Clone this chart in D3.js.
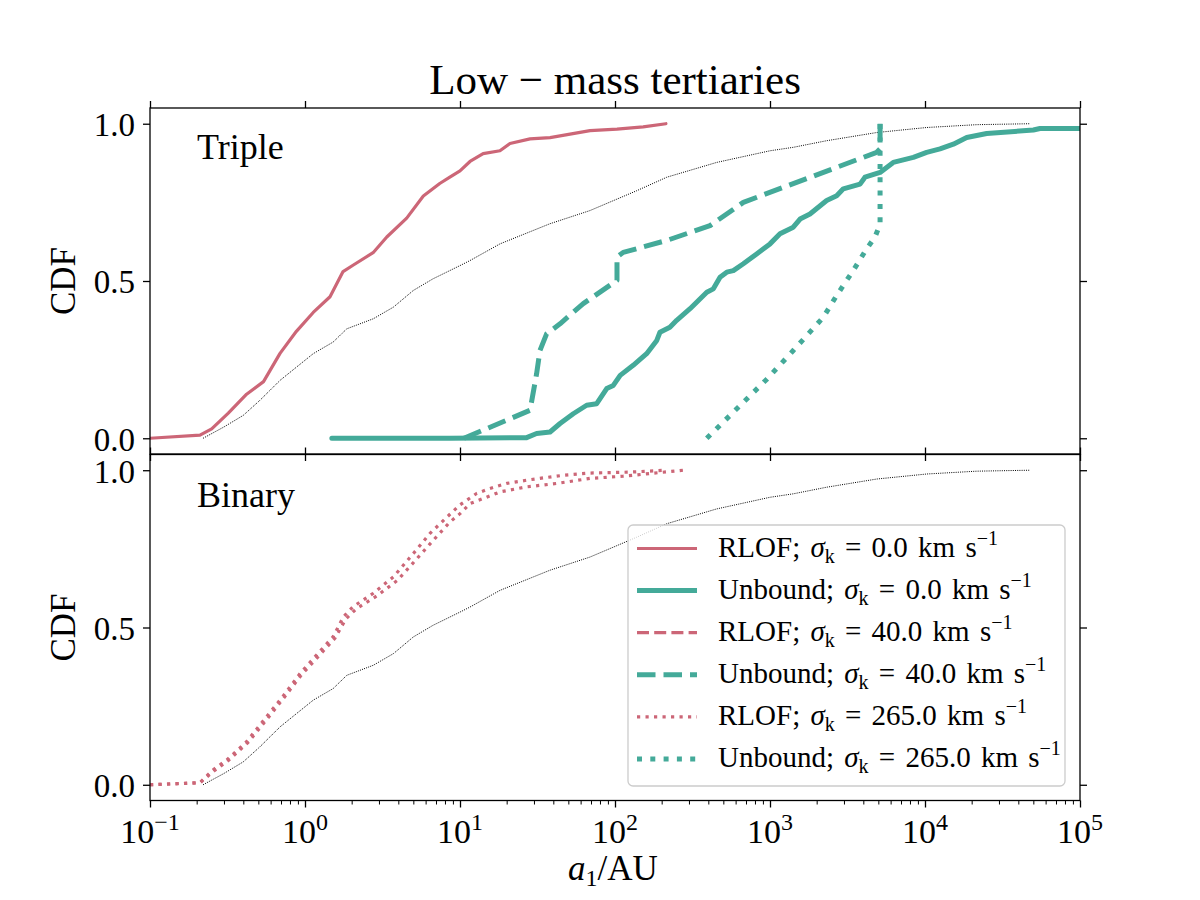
<!DOCTYPE html>
<html><head><meta charset="utf-8">
<script src="https://cdn.jsdelivr.net/npm/d3@7"></script>
<style>
body{margin:0;background:#fff}
text{font-family:"Liberation Serif","Times New Roman",serif;fill:#000}
</style>
</head><body><svg id="c" width="1200" height="900"></svg>
<script>
// ---------------- data ----------------
const allA   = [0.22,0.30,0.40,0.51,0.69,0.88,1.13,1.52,1.86,2.76,3.72,5.0,6.7,10,11.6,18.1,38,69,138,216,453,1000,1413,2320,4880,10260,21600,47500];
const allCdf = [0,0.036,0.073,0.12,0.184,0.226,0.269,0.306,0.348,0.38,0.417,0.47,0.507,0.549,0.565,0.618,0.682,0.724,0.787,0.83,0.877,0.914,0.925,0.946,0.972,0.988,0.997,1.0];

const tripleRlof0A   = [0.1,0.21,0.25,0.32,0.42,0.54,0.69,0.88,1.13,1.45,1.76,2.04,2.75,3.37,4.53,5.8,7.4,8.6,10,11.6,14.1,18.1,21,28.3,38.1,69,103,152,213];
const tripleRlof0Cdf = [0,0.01,0.03,0.08,0.14,0.18,0.27,0.34,0.40,0.45,0.53,0.55,0.59,0.64,0.70,0.77,0.81,0.83,0.85,0.88,0.905,0.914,0.937,0.952,0.956,0.978,0.983,0.99,1.0];

const tripleUnb0A   = [1.49,8.6,26.9,31.2,38.1,44.2,53.8,65.6,76.2,88.4,97.5,108,131,160,186,195,226,250,305,391,431,476,526,580,673,820,1000,1160,1413,1563,1811,2320,2693,2972,3810,4100,5130,6240,8410,10250,12500,15240,18580,25000,50000,55200,100000];
const tripleUnb0Cdf = [0,0,0.002,0.015,0.02,0.047,0.078,0.105,0.11,0.158,0.168,0.2,0.232,0.269,0.311,0.337,0.353,0.375,0.412,0.464,0.475,0.512,0.528,0.533,0.555,0.586,0.618,0.65,0.671,0.697,0.713,0.756,0.771,0.793,0.808,0.83,0.845,0.877,0.893,0.909,0.92,0.935,0.956,0.969,0.98,0.985,0.985];

const tripleUnb40A   = [10.6,28.3,31.2,32.8,36.2,44.2,62.4,103,103,113,216,410,673,4880,5130,5130];
const tripleUnb40Cdf = [0,0.089,0.205,0.279,0.332,0.364,0.428,0.502,0.576,0.591,0.629,0.676,0.75,0.909,0.92,1.0];

const tripleUnb265A   = [391,950,1413,2210,2693,3440,4200,4750,5130,5130];
const tripleUnb265Cdf = [0,0.187,0.279,0.385,0.454,0.533,0.602,0.639,0.681,1.0];

const binaryRlofAA   = [0.1,0.21,0.256,0.313,0.42,0.566,0.725,0.93,1.19,1.52,1.77,2.04,2.76,3.72,5.0,6.4,8.2,10,12.8,15.6,20,28.3,46.4,69,125,210];
const binaryRlofACdf = [0,0.007,0.048,0.079,0.137,0.217,0.283,0.354,0.413,0.471,0.534,0.566,0.609,0.661,0.735,0.799,0.85,0.89,0.926,0.942,0.958,0.97,0.984,0.991,0.994,1.0];

const binaryRlofBA   = [0.1,0.21,0.26,0.32,0.43,0.58,0.74,0.95,1.22,1.56,1.84,2.15,2.9,3.95,5.3,6.8,8.6,10,11.6,14.1,18.1,26.9,42.1,69,113,275];
const binaryRlofBCdf = [0,0.006,0.045,0.077,0.135,0.214,0.28,0.35,0.408,0.466,0.528,0.56,0.6,0.65,0.72,0.78,0.835,0.862,0.894,0.91,0.931,0.947,0.958,0.974,0.981,1.0];

const yTicks = [0, 0.5, 1.0];
const xDecades = [-1,0,1,2,3,4,5];
const legendNames = ["RLOF","Unbound","RLOF","Unbound","RLOF","Unbound"];
const legendSigma = ["0.0","0.0","40.0","40.0","265.0","265.0"];

// ---------------- styles ----------------
const ROSE = "#CC6677", TEAL = "#44AA99";
const st = {
  rlofSolid:{c:ROSE,w:3.2,d:null},
  unbSolid:{c:TEAL,w:5,d:null},
  rlofDash:{c:ROSE,w:3.2,d:"12,5.2"},
  unbDash:{c:TEAL,w:5,d:"18.5,8"},
  rlofDot:{c:ROSE,w:3.2,d:"3.2,5.3"},
  unbDot:{c:TEAL,w:5,d:"5,8.3"},
  all:{c:"#000",w:1,d:"1,1.2"}
};
const legendStyles = [st.rlofSolid, st.unbSolid, st.rlofDash, st.unbDash, st.rlofDot, st.unbDot];

// ---------------- scales ----------------
const svg = d3.select("#c");
const X0 = 150, X1 = 1080;
const x = d3.scaleLog().domain([0.1,1e5]).range([X0,X1]);
const panels = [
  {name:"Triple", y:d3.scaleLinear().domain([-0.05,1.05]).range([454,108]), top:108, bot:454,
   series:[[allA,allCdf,st.all],[tripleRlof0A,tripleRlof0Cdf,st.rlofSolid],[tripleUnb0A,tripleUnb0Cdf,st.unbSolid],
           [tripleUnb40A,tripleUnb40Cdf,st.unbDash],[tripleUnb265A,tripleUnb265Cdf,st.unbDot]], labelY:159},
  {name:"Binary", y:d3.scaleLinear().domain([-0.05,1.05]).range([800.5,454.5]), top:454.5, bot:800.5,
   series:[[allA,allCdf,st.all],[binaryRlofAA,binaryRlofACdf,st.rlofDot],[binaryRlofBA,binaryRlofBCdf,st.rlofDot]], labelY:506.5}
];

const FS = 33;
const decadeVals = xDecades.map(e=>Math.pow(10,e));
const minorVals = [];
for (let e=-1;e<5;e++) for (let m=2;m<10;m++) minorVals.push(m*Math.pow(10,e));

panels.forEach((p,i)=>{
  const g = svg.append("g");
  const cid = "clip"+i;
  svg.append("clipPath").attr("id",cid).append("rect")
     .attr("x",X0).attr("y",p.top).attr("width",X1-X0).attr("height",p.bot-p.top);
  const lines = g.append("g").attr("clip-path",`url(#${cid})`);
  const line = d3.line().x(d=>x(d[0])).y(d=>p.y(d[1]));
  p.series.forEach(([a,c,s])=>{
    lines.append("path").attr("d",line(d3.zip(a,c)))
      .attr("fill","none").attr("stroke",s.c).attr("stroke-width",s.w)
      .attr("stroke-dasharray",s.d).attr("stroke-linejoin","round")
      .attr("stroke-linecap", s.d ? "butt" : "round");
  });
  // frame
  g.append("rect").attr("x",X0).attr("y",p.top).attr("width",X1-X0).attr("height",p.bot-p.top)
   .attr("fill","none").attr("stroke","#000").attr("stroke-width",1.3);
  const left = g.append("g").attr("transform",`translate(${X0},0)`)
    .call(d3.axisLeft(p.y).tickValues(yTicks).tickFormat(d3.format(".1f")).tickSize(7).tickSizeOuter(0).tickPadding(8));
  const right = g.append("g").attr("transform",`translate(${X1},0)`)
    .call(d3.axisRight(p.y).tickValues(yTicks).tickFormat("").tickSize(7).tickSizeOuter(0));
  const topAx = g.append("g").attr("transform",`translate(0,${p.top})`)
    .call(d3.axisTop(x).tickValues(decadeVals).tickFormat("").tickSize(7).tickSizeOuter(0));
  const botAx = g.append("g").attr("transform",`translate(0,${p.bot})`)
    .call(d3.axisBottom(x).tickValues(decadeVals).tickFormat("").tickSize(7).tickSizeOuter(0));
  [left,right,topAx,botAx].forEach(a=>{
    a.select(".domain").remove();
    a.selectAll(".tick line").attr("stroke","#000").attr("stroke-width",1.3);
  });
  left.selectAll(".tick text").attr("font-size",FS).attr("dy","0.36em")
    .attr("font-family","Liberation Serif");
  g.append("text").attr("x",197).attr("y",p.labelY).attr("font-size",36).text(p.name);
  g.append("text").attr("transform",`translate(75,${(p.top+p.bot)/2}) rotate(-90)`)
    .attr("text-anchor","middle").attr("font-size",35).text("CDF");
  if (i===1) {
    const minor = g.append("g").attr("transform",`translate(0,${p.bot})`)
      .call(d3.axisBottom(x).tickValues(minorVals).tickFormat("").tickSize(4).tickSizeOuter(0));
    minor.select(".domain").remove();
    minor.selectAll(".tick line").attr("stroke","#000").attr("stroke-width",1);
    xDecades.forEach(e=>{
      const t = g.append("text").attr("x",x(Math.pow(10,e))).attr("y",843)
        .attr("text-anchor","middle").attr("font-size",34);
      t.append("tspan").text("10");
      t.append("tspan").attr("font-size",24).attr("dy",-13).text(e<0?"\u2212"+(-e):String(e));
    });
  }
});

// x label
const xl = svg.append("text").attr("x",613).attr("y",880).attr("text-anchor","middle").attr("font-size",35);
xl.append("tspan").attr("font-style","italic").text("a");
xl.append("tspan").attr("font-size",24).attr("dy",6).text("1");
xl.append("tspan").attr("dy",-6).text("/AU");

// title
svg.append("text").attr("x",615).attr("y",93.5).attr("text-anchor","middle").attr("font-size",43)
  .text("Low \u2212 mass tertiaries");

// legend
const lg = svg.append("g");
lg.append("rect").attr("x",628).attr("y",525).attr("width",437).attr("height",261).attr("rx",5)
  .attr("fill","#fff").attr("fill-opacity",0.8).attr("stroke","#cccccc").attr("stroke-width",1.3);
legendNames.forEach((n,i)=>{
  const cy = 548.5 + i*42.1;
  const s = legendStyles[i];
  lg.append("line").attr("x1",637).attr("x2",697).attr("y1",cy).attr("y2",cy)
    .attr("stroke",s.c).attr("stroke-width",s.w).attr("stroke-dasharray",s.d).attr("stroke-linecap","butt");
  const t = lg.append("text").attr("x",718).attr("y",cy+8).attr("font-size",29).attr("word-spacing",3);
  t.append("tspan").text(n+"; ");
  t.append("tspan").attr("font-style","italic").text("\u03c3");
  t.append("tspan").attr("font-size",20).attr("dy",6).text("k");
  t.append("tspan").attr("dy",-6).text(" = "+legendSigma[i]+" km s");
  t.append("tspan").attr("font-size",20).attr("dy",-12).text("\u22121");
});
</script>
</body></html>
